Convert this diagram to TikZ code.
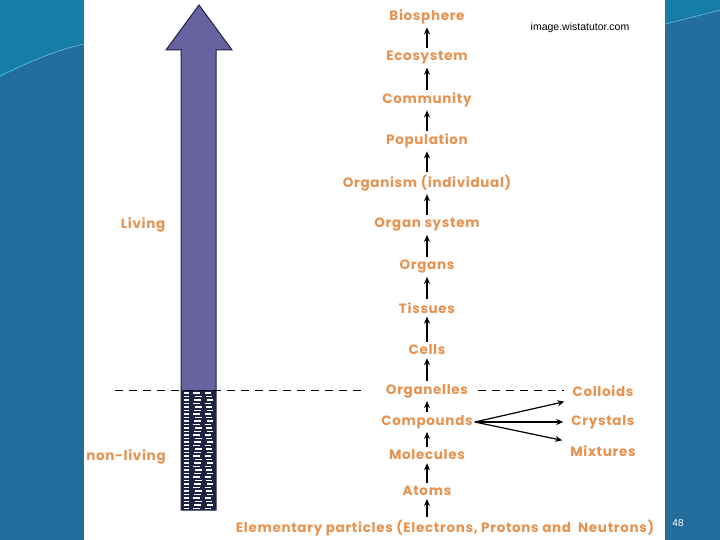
\documentclass[tikz,border=0pt]{standalone}
\usepackage{fontspec}
\setmainfont{Poppins}
\newfontfamily\lvlfont[LetterSpace=5]{Poppins}
\newfontfamily\arialfont{Liberation Sans}
\usetikzlibrary{arrows.meta}
\definecolor{slideblue}{RGB}{36,110,158}
\definecolor{slideteal}{RGB}{20,126,168}
\definecolor{slidelight}{RGB}{70,190,215}
\definecolor{lvltext}{RGB}{230,146,80}
\definecolor{barfill}{RGB}{104,98,160}
\definecolor{barline}{RGB}{28,36,70}
\tikzset{
	lvl/.style={text=lvltext,font=\lvlfont\bfseries\fontsize{13.5}{15}\selectfont,inner xsep=2pt,inner ysep=3pt},
	up/.style={-{Stealth[length=7pt,width=6pt]},line width=1.5pt},
}
\begin{document}
\begin{tikzpicture}[x=1pt,y=-1pt]
		\useasboundingbox (0,0) rectangle (720,540);
		% slide background
		\fill[slideblue] (0,0) rectangle (720,540);
		\fill[slideteal] (0,0) -- (84,0) -- (84,42) .. controls (50,50) and (20,65) .. (0,78) -- cycle;
		\draw[slidelight,line width=0.8pt] (0,76) .. controls (25,64) and (55,50) .. (84,44);
		\fill[slideteal] (665,0) -- (720,0) -- (720,8) .. controls (700,14) and (680,18) .. (665,22) -- cycle;
		\draw[slidelight,line width=0.8pt] (665,24) .. controls (685,19) and (705,14) .. (720,10);
		\fill[white] (84,0) rectangle (665,540);
		
		% big arrow
		\draw[barline,fill=barfill,line width=1pt] (181,510) -- (181,50) -- (166,50) -- (199,5) -- (232,50) -- (216,50) -- (216,510) -- cycle;
		\fill[barline] (181,390) rectangle (216,510);
		\foreach \r in {0,...,33}{
			\foreach \c/\w in {184/6,193/8,205/7}{
				\pgfmathsetmacro{\yy}{392+\r*3.5}
				\pgfmathsetmacro{\xx}{\c+mod(\r*\w,3)}
				\fill[white] (\xx,\yy) rectangle ++(\w-1,1.8);
			}
		}
		
		% levels
		\node[lvl] (bio) at (427,17) {Biosphere};
		\node[lvl] (eco) at (427,58) {Ecosystem};
		\node[lvl] (com) at (427,100) {Community};
		\node[lvl] (pop) at (427,141) {Population};
		\node[lvl] (org) at (427,183) {Organism (individual)};
		\node[lvl] (sys) at (427,225) {Organ system};
		\node[lvl] (ogs) at (427,267) {Organs};
		\node[lvl] (tis) at (427,308) {Tissues};
		\node[lvl] (cel) at (427,350) {Cells};
		\node[lvl] (ole) at (427,391) {Organelles};
		\node[lvl] (cmp) at (427,422) {Compounds};
		\node[lvl] (mol) at (427,455) {Molecules};
		\node[lvl] (atm) at (427,491) {Atoms};
		\node[lvl] (ele) at (445,528) {Elementary particles (Electrons, Protons and~ Neutrons)};
		
		\node[lvl] (col) at (603,391) {Colloids};
		\node[lvl] (cry) at (603,422) {Crystals};
		\node[lvl] (mix) at (603,451) {Mixtures};
		
		\node[lvl] (liv) at (143,225) {Living};
		\node[lvl] (non) at (126,457) {non-living};
		
		\draw[up] (atm.south |- ele.north) -- (atm);
		\draw[up] (atm) -- (mol);
		\draw[up] (mol) -- (cmp);
		\draw[up] (cmp) -- (ole);
		\draw[up] (ole) -- (cel);
		\draw[up] (cel) -- (tis);
		\draw[up] (tis) -- (ogs);
		\draw[up] (ogs) -- (sys);
		\draw[up] (sys) -- (org);
		\draw[up] (org) -- (pop);
		\draw[up] (pop) -- (com);
		\draw[up] (com) -- (eco);
		\draw[up] (eco) -- (bio);
		
		\draw[up,line width=1.2pt] (cmp.east) -- ([xshift=-6pt,yshift=-2pt]col.south west);
		\draw[up,line width=1.2pt] (cmp.east) -- ([xshift=-6pt]cry.west);
		\draw[up,line width=1.2pt] (cmp.east) -- ([xshift=-6pt,yshift=2pt]mix.north west);
		
		% living / non-living border
		\coordinate (dl) at (115,390);
		\draw[dashed,dash pattern=on 8pt off 6pt,line width=0.8pt] (dl) -- ([xshift=-22pt]ole.west |- dl);
		\draw[dashed,dash pattern=on 8pt off 6pt,line width=0.8pt] ([xshift=8pt]ole.east |- dl) -- ([xshift=-6pt]col.west |- dl);
		
		\node[font=\arialfont\fontsize{10.5}{12}\selectfont] (src) at (580,28) {image.wistatutor.com};
		\node[text=white,font=\arialfont\fontsize{10}{12}\selectfont] (pg) at (678,523) {48};
\end{tikzpicture}
\end{document}
